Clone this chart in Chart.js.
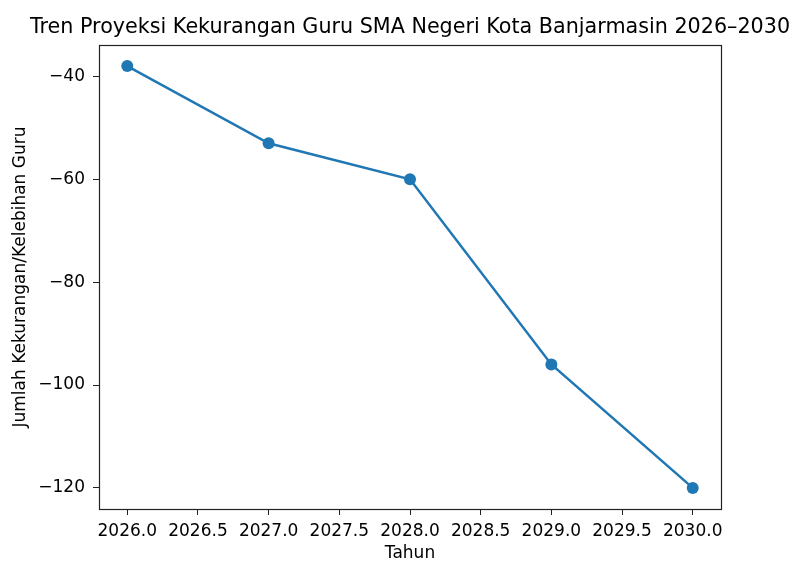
<!DOCTYPE html>
<html lang="id">
<head>
  <meta charset="UTF-8" />
  <title>Tren Proyeksi Kekurangan Guru</title>
  <style>
    html, body { margin: 0; padding: 0; background: #fff; }
    #wrap { width: 795px; height: 561px; }
  </style>
</head>
<body>
  <div id="wrap"><canvas id="chart" width="795" height="561"></canvas></div>

  <script src="https://cdn.jsdelivr.net/npm/chart.js"></script>
  <script>
    // data
    const tahun = [2026, 2027, 2028, 2029, 2030];
    const selisihGuru = [-38, -53, -60, -96, -120];
    const xTicks = [2026.0, 2026.5, 2027.0, 2027.5, 2028.0, 2028.5, 2029.0, 2029.5, 2030.0];
    const yTicks = [-40, -60, -80, -100, -120];
    const judul = 'Tren Proyeksi Kekurangan Guru SMA Negeri Kota Banjarmasin 2026\u20132030';

    const FONT = "'DejaVu Sans', sans-serif";
    const minus = s => String(s).replace('-', '\u2212');

    // matplotlib-style box around the plot area + title centred over the axes
    const frame = {
      id: 'frame',
      afterDraw(chart) {
        const { ctx, chartArea: a } = chart;
        ctx.save();
        ctx.strokeStyle = '#222';
        ctx.lineWidth = 1.2;
        ctx.strokeRect(Math.round(a.left) + 0.5, Math.round(a.top) + 0.5,
          Math.round(a.right - a.left), Math.round(a.bottom - a.top));
        ctx.fillStyle = '#000';
        ctx.font = '20.7px ' + FONT;
        ctx.textAlign = 'center';
        ctx.textBaseline = 'alphabetic';
        ctx.fillText(judul, (a.left + a.right) / 2, 33);
        ctx.restore();
      }
    };

    new Chart(document.getElementById('chart'), {
      type: 'line',
      data: {
        datasets: [{
          data: tahun.map((t, i) => ({ x: t, y: selisihGuru[i] })),
          borderColor: '#1f77b4',
          backgroundColor: '#1f77b4',
          borderWidth: 2.5,
          pointRadius: 6,
          pointHoverRadius: 6,
          pointBorderWidth: 0,
          tension: 0,
          fill: false
        }]
      },
      options: {
        responsive: false,
        animation: false,
        layout: { padding: { left: 0, right: 74, top: 45, bottom: 0 } },
        plugins: {
          legend: { display: false },
          tooltip: { enabled: false },
          title: { display: false }
        },
        scales: {
          x: {
            type: 'linear',
            min: 2025.8,
            max: 2030.2,
            afterBuildTicks: s => { s.ticks = xTicks.map(v => ({ value: v })); },
            afterFit: s => { s.height = 52; },
            grid: { display: true, drawOnChartArea: false, drawTicks: true, tickLength: 6, color: '#222' },
            border: { display: false },
            ticks: {
              color: '#000',
              font: { family: FONT, size: 17 },
              padding: 6,
              maxRotation: 0,
              autoSkip: false,
              callback: v => Number(v).toFixed(1)
            },
            title: {
              display: true,
              text: 'Tahun',
              color: '#000',
              font: { family: FONT, size: 17 },
              padding: { top: 0, bottom: -3 }
            }
          },
          y: {
            type: 'linear',
            min: -124.1,
            max: -33.9,
            afterBuildTicks: s => { s.ticks = yTicks.map(v => ({ value: v })); },
            afterFit: s => { s.width = 99; },
            grid: { display: true, drawOnChartArea: false, drawTicks: true, tickLength: 6, color: '#222' },
            border: { display: false },
            ticks: {
              color: '#000',
              font: { family: FONT, size: 17 },
              padding: 8,
              autoSkip: false,
              callback: v => minus(v)
            },
            title: {
              display: true,
              text: 'Jumlah Kekurangan/Kelebihan Guru',
              color: '#000',
              font: { family: FONT, size: 17 },
              padding: { top: 10, bottom: 0 }
            }
          }
        }
      },
      plugins: [frame]
    });
  </script>
</body>
</html>
